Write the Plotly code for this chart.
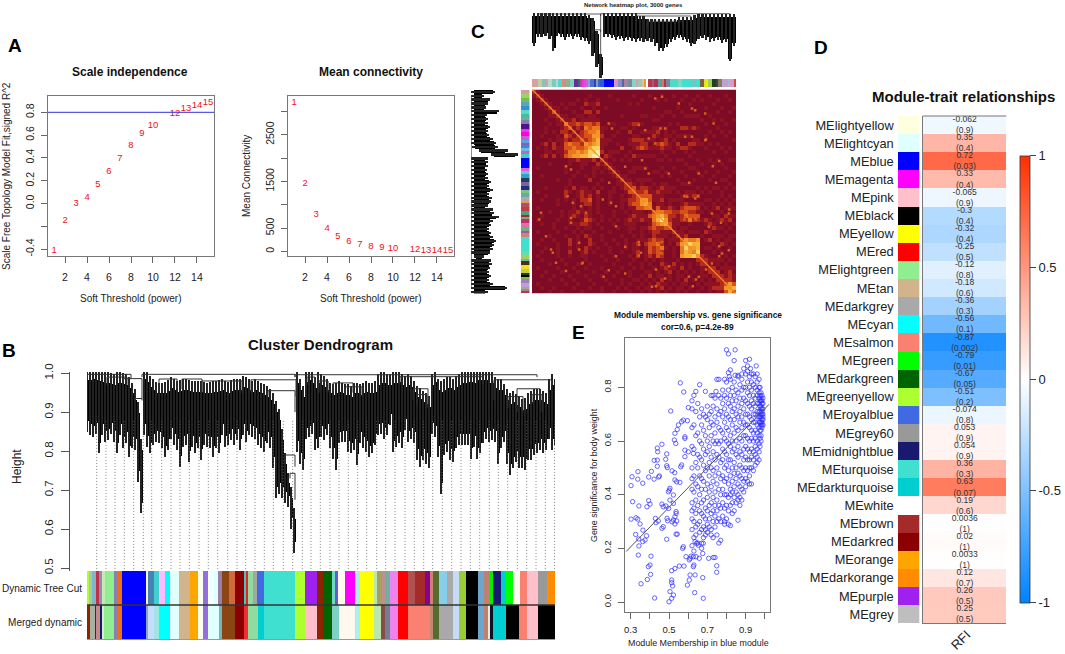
import numpy as np
import plotly.graph_objects as go

W, H = 1065, 654
FONT = "Liberation Sans"

# --- A: soft threshold
powers = [1, 2, 3, 4, 5, 6, 7, 8, 9, 10, 12, 13, 14, 15]
scale_fit = [-0.41, -0.147, 0.0, 0.05, 0.165, 0.28, 0.395, 0.505, 0.61, 0.68, 0.79, 0.83, 0.86, 0.885]
mean_conn = [3180, 1450, 793, 478, 313, 214, 150, 107, 77, 64, 28, 22, 18, 14]
r2_cut = 0.8

# --- B: cluster dendrogram, read every 3 leaf bins (bin = 1 px of the tree width)
dendro_low = [
    .850, .841, .837, .845, .794, .841, .824, .828, .845, .824, .794, .841, .807, .820, .785, .807, .803, .721, .640,
    .841, .811, .794, .815, .824, .820, .807, .784, .803, .832, .815, .803, .760, .811, .815, .773, .811, .794, .807,
    .777, .815, .811, .807, .785, .807, .794, .841, .811, .815, .828, .815, .828, .803,
    .841, .824, .841, .837, .832, .815, .807, .798, .820, .807, .756, .679, .691, .679, .666, .657, .600, .539,
    .798, .768, .751, .832, .837, .845, .803, .807, .837, .828, .841, .807, .781, .751, .820, .824, .824, .798, .794,
    .803, .764, .820, .807, .798, .785, .794, .815, .841, .845, .832, .841, .867, .798,
    .811, .820, .807, .854, .824, .832, .820, .777, .760, .777, .768, .756, .845, .837, .785, .691, .790, .798, .777,
    .773, .807, .815, .815, .815, .815, .781, .811, .781, .794, .820, .832, .824, .828, .824, .768, .807, .824, .768,
    .738, .756, .773, .756, .756, .751, .777, .777, .790, .794, .803, .794, .803, .832, .803, .815]
dendro_top = [
    .982, .982, .984, .982, .980, .978, .976, .974, .972, .969, .974, .976, .972, .969, .961, .948, .931, .897, .803,
    .986, .978, .965, .956, .950, .948, .948, .950, .955, .961, .956, .952, .955, .956, .956, .955, .952, .952, .952,
    .952, .950, .948, .950, .952, .952, .955, .956, .952, .950, .955, .956, .956, .958,
    .965, .961, .956, .952, .956, .952, .948, .944, .939, .931, .922, .901, .879, .828, .768, .717, .680, .625,
    .974, .956, .939, .978, .982, .974, .961, .974, .969, .965, .956, .948, .944, .948, .952, .948, .944, .944, .939,
    .948, .948, .944, .948, .952, .948, .948, .952, .969, .974, .974, .969, .969, .974,
    .974, .978, .969, .965, .969, .965, .952, .939, .935, .926, .922, .914, .969, .978, .956, .952, .956, .961, .961,
    .956, .965, .969, .974, .974, .978, .978, .974, .982, .982, .982, .982, .974, .974, .961, .956, .956, .944, .931,
    .922, .926, .918, .914, .905, .909, .922, .926, .931, .931, .931, .926, .922, .956, .969, .956]
# upper branches: left bin, right bin, height, lower end on each side
branch_left = [0, 36, 48, 55, 164, 181, 198, 203, 208, 313, 407, 430, 421, 445, 326, 330, 220, 232, 246, 258, 72, 95, 115, 135, 20]
branch_right = [44, 55, 55, 208, 209, 208, 208, 208, 450, 396, 465, 453, 436, 455, 341, 340, 228, 241, 266, 275, 90, 115, 135, 155, 40]
branch_h = [.997, .986, .935, .997, .983, .955, .79, .743, .996, .991, .983, .96, .94, .945, .96, .945, .99, .98, .975, .965, .985, .985, .98, .98, .99]
branch_low_l = [.985, .97, .93, .99, .95, .94, .77, .73, .99, .97, .93, .90, .91, .92, .93, .92, .97, .95, .95, .94, .95, .96, .95, .95, .97]
branch_low_r = [.985, .935, .93, .99, .94, .90, .76, .675, .99, .97, .97, .92, .90, .90, .92, .91, .97, .95, .95, .94, .96, .95, .95, .95, .97]
guide_bins = [9.7, 19, 28, 37.3, 46.7, 56.3, 64.7, 74.7, 84, 93, 102.3, 112, 121.3, 130.7, 140.7, 150,
              158.7, 168, 177.3, 186.3, 196.3, 205.7, 215.3, 224, 233.3, 243, 252, 261.3, 270.7, 279.7, 289.7, 298.7,
              308, 318, 327.3, 336.7, 345.7, 355.3, 364.7, 374, 383.3, 392.7, 402.3, 411.3, 420.7, 430.3, 439.7, 449,
              458.3, 467.5]

tree_colors = ["#adff2f", "#a8c8a0", "#7fb6c8", "#c0304a", "#8f8fb0", "#c8e8b8", "#90ee90", "#8a80b0", "#f07010", "#0000ff",
               "#f5f5d0", "#4682b4", "#40d0d0", "#ffbbff", "#00ffff", "#e0ffff", "#d2b48c", "#ffa500", "#fffff0", "#9370db",
               "#f0ffff", "#e0ffff", "#9a80a8", "#8b4513", "#d2693c", "#8b0000", "#40c8c8", "#ee2020", "#90dca0", "#a0a8a0",
               "#4169e1", "#40e0d0", "#adff2f", "#a020f0", "#8b2500", "#006400", "#70d8c8", "#6a5acd", "#fffaf0", "#ff00ff",
               "#aeeeee", "#ffff00", "#b8e8b0", "#a8a060", "#c09090", "#70b0a0", "#ee82ee", "#ff0000", "#b05050", "#a52a2a",
               "#8b008b", "#d08070", "#556b2f", "#87ceeb", "#a9a9a9", "#c6dbf7", "#9acd32", "#000000", "#6ca6cd", "#c08070",
               "#00ee00", "#191970", "#00ced1", "#00ff00", "#fffff0", "#fa8072", "#ffc0cb", "#999999", "#ff8c00"]
tree_ends = [2, 4.7, 9, 11.7, 15.3, 17.7, 27.3, 30, 34.7, 58.7, 61.3, 67.3, 71.7, 77.7, 83.3, 91.7, 103, 110.7, 115.7, 120.7,
             127.3, 131.3, 135, 142, 148, 157, 159.3, 161.3, 165.7, 169.7, 177, 208.3, 218.3, 230, 236.3, 245, 248.3, 251,
             257.7, 268, 273, 287, 289.7, 294.7, 298, 303, 310.7, 321, 328, 338, 343, 346.3, 352.3, 359.7, 366.3, 372.3,
             379, 391, 397, 403, 406.3, 414.3, 419, 426.3, 433, 439.7, 451, 459.7, 468]
merged_colors = ["#8b2500", "#a8b0a0", "#303030", "#c08a90", "#191970", "#d0f0d0", "#90ee90", "#8a80b0", "#f07010", "#0000ff",
                 "#8fa8a8", "#c6dcff", "#9fe6e0", "#00ffff", "#e0ffff", "#d2b48c", "#ffa500", "#fffff0", "#9370db", "#e0ffff",
                 "#70b8b8", "#8b4513", "#8b0000", "#ee3030", "#90dca0", "#00ced1", "#40e0d0", "#adff2f", "#ffc0cb", "#8b2500",
                 "#006400", "#80d0c8", "#fff8ee", "#aeeeee", "#ffff00", "#b8e8b0", "#8b4a4a", "#708090", "#ee82ee", "#ff0000",
                 "#fa8072", "#c08a70", "#556b2f", "#a9a9a9", "#c6dbf7", "#9acd32", "#000000", "#6ca6cd", "#c08070", "#e8e8e8",
                 "#101020", "#00ced1", "#000000", "#fa8072", "#ffc0cb", "#000000"]
merged_ends = [3, 8, 9, 13, 15.3, 17.3, 27.3, 30, 34.7, 59, 61.3, 67.3, 71.7, 83.3, 91.7, 103, 110.7, 115.7, 120.7, 132,
               135, 148, 157, 161.3, 170.7, 177, 208.3, 218.3, 230, 236.3, 245, 251.7, 268, 273, 287, 293.7, 298, 303,
               310.7, 321, 343, 346.3, 352.3, 366.3, 372.3, 379, 391, 397, 400.7, 403, 406, 419, 432.3, 439.7, 451, 468]

# --- C: network heatmap. Lower triangle of the TOM, one digit per 4 px cell
heat_rows = [
    "7", "17", "017", "0017", "00017", "000018", "0000117", "00010017", "000010118", "0001000127",
    "0001010221 8", "0010001032 17", "0000101121 227", "0012020134 3328", "0101021133 43349",
    "0001101124 454579", "0012020134 5566789", "0000000001 12111207", "0000100001 001100217",
    "0100000010 0010011016", "0000000010 01000101017", "0010000000 100101000017", "0000001001 0000200100017",
    "0000000001 00000010000117", "0001000010 201101010010127", "0100000021 0121102001100138",
    "0001000020 01212010010010127", "0010001010 102230100100112238", "0000001000 1012201001001023358",
    "0100000000 10101010000010113347", "0000100101 121110100010010111018", "0010000101 2102100100100012111348",
    "0100001001 00132101010101211211469", "0010010001 112210100010011100013458",
    "0000010010 0101100100010011011232237", "0100001000 10100100010000100101221117",
    "0000100010 010210010000100101002111017", "0010010002 0100200100100100111232201117",
    "0100001002 01002100100101012023342010258", "0001001001 010210100100010110132341010478",
    "0010001002 0012010001001001201323200104658",
    "0100001001 0011000100 1000102012 1320010566 79", "0010000100 0001000010 0100010010 1010001000 027",
    "0000100010 0100100000 1000100101 0021020101 0127", "0100001000 1001000100 0010010100 1012110201 00117",
    "0001000100 0100010010 0100100011 0101201010 101027", "0010010001 0001000100 1000100102 0110101101 0011027",
    "0000100100 1000100010 0010011010 1020101020 10101027", "0100000010 0100010001 0010100101 0211010110 010111128",
    "0010010000 1000100100 0101001011 0120101101 0010122259",
    "0000100100 0010000100 1000100101 0101001010 01001011367"]
heat_diag = [2, 2, 2, 2, 2, 3, 2, 2, 4, 3, 2, 2, 3, 5, 6, 7, 9, 2, 2, 2, 2, 2, 2, 2, 2, 3, 3, 5, 6, 4, 3, 5, 8, 6, 3, 2, 2, 3, 6, 5, 4, 5,
             2, 2, 2, 2, 2, 2, 3, 5, 3]
# small isolated hot spots above the diagonal (column, row in heatmap cells)
spot_col = [30.3, 32, 36.2, 39.5, 40.3, 42.8, 44.9, 32.8, 31.6, 30.3, 37.8, 39.5, 42.8, 18.7, 19.5, 26.2, 27.8, 28.7, 27.8, 28.7,
            22.8, 27, 33.7, 41.2, 40.3, 38.3, 37.8, 40.3, 44.5, 48.7, 43.7, 32, 32, 26.2, 26.2, 22.8, 47, 48.7, 44.5, 41.2, 38.7,
            32.8, 29.5, 22.8, 18.7, 17.4, 12]
spot_row = [1.75, 1.3, 3, 4.25, 4.7, 5.5, 8, 9.25, 9.25, 13, 11.3, 11.3, 12.2, 8, 9.25, 8.4, 9.7, 11.75, 19.25, 20.5, 18.8, 17.2,
            20.5, 20.5, 26.75, 26.3, 31.3, 31.75, 30.5, 30.5, 33.8, 37.6, 40.5, 41, 37.6, 38.8, 40.5, 39.7, 43, 46.3, 46.3, 46.75,
            48.8, 45.5, 44.7, 46.3, 43]

net_low = [.515, .64, .65, .665, .615, .44, .665, .64, .60, .64, .615, .64, .60, .59, .54, .365, .19, .03, .64, .64, .63, .60,
           .615, .59, .60, .59, .565, .59, .565, .59, .565, .515, .44, .44, .50, .565, .60, .63, .60, .565, .515, .54, .615,
           .63, .60, .565, .59, .60, .55, .565, .275, .515]
net_top = [.96, .96, .96, .96, .96, .96, .96, .96, .96, .96, .96, .96, .96, .96, .93, .89, .69, .34, .97, .96, .96, .96, .96, .96,
           .96, .96, .96, .92, .92, .88, .88, .88, .88, .88, .88, .88, .88, .90, .90, .90, .90, .93, .95, .95, .95, .95, .95, .95,
           .95, .95, .95, .95]
net_tip = [.52, .733, .613, .667, .70, .433, .68, .653, .667, .613, .653, .633, .567, .50, .467, .267, .067, .667, .653, .667,
           .68, .653, .667, .60, .633, .567, .633, .587, .60, .667, .567, .533, .447, .567, .60, .633, .60, .567, .50, .533, .567,
           .613, .733, .60, .587, .613, .633, .60, .633, .567, .28, .667]
net_root = [.95, .95, .95, .95, .95, .95, .95, .95, .95, .95, .95, .95, .95, .95, .93, .80, .55, .95, .95, .95, .95, .95, .95, .95,
            .95, .95, .95, .95, .95, .95, .95, .95, .95, .95, .95, .95, .95, .95, .95, .95, .95, .95, .90, .95, .95, .95, .95, .95,
            .95, .95, .95, .95]

top_colors = ["#d8a0a0", "#c0d0a0", "#90c0b0", "#d0a0c0", "#b0e0c0", "#80c8c0", "#a0e0e0", "#60d0c8", "#d09080", "#90b090",
              "#80d0c0", "#6030a0", "#703080", "#406080", "#a050a0", "#ff30d0", "#f040e0", "#d060d0", "#80a0e0", "#5070d0",
              "#3040c0", "#80a0c0", "#5060c0", "#2060e0", "#0000ff", "#e090c0", "#8090c0", "#6060a0", "#b080a0", "#7090a0",
              "#90d0c0", "#d0a0c0", "#a0c8b0", "#e0c0a0", "#e0a030", "#ffffff", "#c03050", "#a06060", "#b03060", "#60a090",
              "#d07080", "#a04040", "#8080a0", "#50d8c8", "#80d8c0", "#40e0d0", "#70c8c0", "#40e0d0", "#806040", "#e0e030",
              "#f0f000", "#a0d050", "#204020", "#404040", "#808060", "#c0a0d0", "#b0b0e0", "#d0a0c0", "#e04040", "#c03060",
              "#f02020", "#a03050", "#e03030", "#20e020", "#00f000"]
top_sizes = [3, 2, 2, 1, 2, 2, 1, 2, 2, 2, 2, 1, 1, 1, 1, 1, 1, 1, 1, 2,
             1, 1, 1, 2, 5, 2, 2, 1, 2, 2, 2, 1, 2, 1, 1, 1, 2, 1, 2, 2,
             1, 1, 2, 4, 2, 5, 2, 2, 2, 1, 1, 2, 2, 1, 2, 3, 1, 2, 2, 2, 1, 1, 2, 2, 2]
left_colors = ["#d0a0a0", "#a0d060", "#70c050", "#60a0c0", "#3090d0", "#60d8c0", "#40c0a0", "#70b090", "#8080b0", "#501090",
               "#e040e0", "#ff00e0", "#c060d0", "#60a0e0", "#8060c0", "#5080d0", "#60c0e0", "#d060c0", "#40d0c0", "#0000ff",
               "#e060d0", "#70c0e0", "#30a0d0", "#204060", "#8060a0", "#203080", "#80c080", "#60b0a0", "#c0a0b0", "#e0a040",
               "#b05060", "#c04040", "#50a080", "#a03030", "#90a070", "#c03070", "#e070a0", "#70b080", "#b050a0", "#d08080",
               "#40e0d0", "#70d8a0", "#a0d060", "#60c0a0", "#503010", "#f0e020", "#c0d040", "#204020", "#000000", "#80c040",
               "#a080c0", "#c0a0d0", "#b0a0a0", "#909090", "#c03050", "#e02020", "#b040a0", "#f01010", "#d04040", "#20e020",
               "#00f000", "#40d040"]
left_sizes = [2, 2, 2, 2, 2, 2, 2, 1, 2, 3, 1, 2, 2, 2, 1, 1, 2, 1, 2, 5,
              2, 1, 2, 2, 2, 2, 2, 2, 2, 1, 2, 2, 2, 1, 1, 2, 2, 2, 1, 2,
              7, 2, 2, 1, 2, 2, 2, 1, 1, 1, 2, 2, 1, 1, 2, 2, 2, 2, 1, 2, 2, 1]

# --- D: module-trait table
modules = ["MElightyellow", "MElightcyan", "MEblue", "MEmagenta", "MEpink", "MEblack", "MEyellow", "MEred", "MElightgreen",
           "MEtan", "MEdarkgrey", "MEcyan", "MEsalmon", "MEgreen", "MEdarkgreen", "MEgreenyellow", "MEroyalblue", "MEgrey60",
           "MEmidnightblue", "MEturquoise", "MEdarkturquoise", "MEwhite", "MEbrown", "MEdarkred", "MEorange", "MEdarkorange",
           "MEpurple", "MEgrey"]
module_colors = ["#ffffe0", "#e0ffff", "#0000ff", "#ff00ff", "#ffc0cb", "#000000", "#ffff00", "#ff0000", "#90ee90",
                 "#d2b48c", "#a9a9a9", "#00ffff", "#fa8072", "#00ff00", "#006400", "#adff2f", "#4169e1", "#999999",
                 "#191970", "#40e0d0", "#00ced1", "#ffffff", "#a52a2a", "#8b0000", "#ffa500", "#ff8c00", "#a020f0", "#bebebe"]
rfi_cor = ["-0.062", "0.35", "0.72", "0.33", "-0.065", "-0.3", "-0.32", "-0.25", "-0.12", "-0.18", "-0.36", "-0.56", "-0.87",
           "-0.79", "-0.67", "-0.51", "-0.074", "0.053", "0.054", "0.36", "0.63", "0.19", "0.0036", "0.02", "0.0033", "0.12",
           "0.26", "0.25"]
rfi_p = ["(0.9)", "(0.4)", "(0.03)", "(0.4)", "(0.9)", "(0.4)", "(0.4)", "(0.5)", "(0.8)", "(0.6)", "(0.3)", "(0.1)", "(0.002)",
         "(0.01)", "(0.05)", "(0.2)", "(0.8)", "(0.9)", "(0.9)", "(0.3)", "(0.07)", "(0.6)", "(1)", "(1)", "(1)", "(0.7)", "(0.5)",
         "(0.5)"]

# --- E: membership vs significance, sparse part read point by point
blue_sparse = [
    (.302, .434), (.307, .467), (.31, .374), (.302, .309), (.328, .314), (.337, .309), (.349, .291), (.326, .252), (.342, .235),
    (.343, .209), (.34, .175), (.354, .068), (.387, .084), (.392, .132), (.401, .138), (.404, .103), (.406, .171), (.363, .225),
    (.375, .231), (.364, .268), (.383, .247), (.385, .355), (.343, .358), (.394, .378), (.401, .365), (.338, .486), (.337, .458),
    (.363, .443), (.394, .466), (.408, .487), (.422, .458), (.439, .506), (.446, .466), (.423, .528), (.439, .574), (.441, .56),
    (.463, .588), (.439, .529), (.483, .532), (.488, .508), (.491, .501), (.45, .47), (.509, .712), (.559, .817), (.577, .783),
    (.601, .725), (.596, .676), (.575, .678), (.566, .672), (.549, .66), (.543, .643), (.531, .629), (.528, .604), (.535, .591),
    (.488, .552), (.516, .489), (.53, .482), (.583, .616), (.583, .61), (.583, .566), (.583, .542), (.601, .56), (.627, .554),
    (.566, .511), (.561, .504), (.531, .455), (.54, .448), (.557, .446), (.505, .424), (.497, .411), (.502, .417), (.523, .399),
    (.505, .38), (.463, .365), (.47, .355), (.484, .358), (.498, .349), (.523, .368), (.537, .337), (.531, .318), (.537, .33),
    (.523, .306), (.54, .302), (.543, .253), (.537, .253), (.488, .234), (.463, .275), (.47, .281), (.444, .302), (.432, .296),
    (.429, .312), (.49, .312), (.493, .303), (.516, .299), (.531, .291), (.571, .2), (.575, .206), (.589, .169), (.61, .163),
    (.627, .132), (.578, .134), (.554, .134), (.531, .125), (.514, .117), (.514, .082), (.514, .072), (.519, .06), (.523, .026),
    (.505, .039), (.5, .001), (.514, .014), (.425, .015), (.634, .035), (.679, .014), (.676, .091), (.596, .063), (.606, .082),
    (.61, .101), (.636, .101), (.63, .138), (.606, .157), (.707, .163), (.731, .166), (.74, .166), (.749, .135), (.749, .111),
    (.636, .225), (.644, .219), (.653, .212), (.67, .219), (.676, .181), (.679, .219), (.658, .163), (.641, .169), (.627, .169),
    (.615, .171), (.80, .94), (.81, .925), (.845, .94), (.84, .9), (.90, .9), (.92, .905), (.91, .88), (.925, .87), (.955, .88),
    (.93, .85), (.82, .865), (.81, .855), (.75, .83), (.76, .83), (.79, .83), (.815, .84), (.845, .845), (.86, .845), (.88, .85),
    (.66, .81), (.64, .785), (.69, .785), (.73, .77), (.745, .785)]
# dense part: membership value, then the significances seen in that column
blue_dense = [
    (.62, [.75, .72, .65, .58, .5, .46, .42, .37, .34, .31, .27, .21]), (.63, [.77, .66, .57, .47, .41, .35, .3, .24, .19]),
    (.64, [.71, .62, .52, .44, .38, .33, .28, .25]), (.65, [.74, .63, .55, .5, .43, .36, .29, .22]),
    (.66, [.69, .6, .54, .47, .4, .34, .3, .26]), (.67, [.72, .66, .59, .53, .46, .42, .37, .33, .27, .2]),
    (.68, [.7, .64, .57, .51, .45, .38, .32, .28, .24]), (.69, [.69, .62, .55, .49, .42, .35, .31, .27, .25]),
    (.70, [.73, .68, .6, .56, .5, .44, .39, .34, .29, .26]), (.71, [.7, .65, .58, .52, .47, .41, .36, .31, .28]),
    (.72, [.77, .71, .67, .62, .54, .5, .43, .37, .33, .27, .25]), (.73, [.73, .66, .6, .56, .49, .45, .39, .34, .3, .24]),
    (.74, [.76, .69, .63, .59, .53, .47, .41, .36, .32, .28]), (.75, [.72, .67, .6, .55, .5, .44, .38, .34, .3, .25]),
    (.76, [.77, .7, .65, .59, .54, .48, .42, .36, .31, .22]), (.77, [.76, .71, .64, .6, .52, .46, .4, .35, .3, .23]),
    (.78, [.79, .74, .69, .63, .57, .53, .47, .42, .37, .32]), (.79, [.77, .72, .67, .61, .56, .5, .45, .4, .35, .3, .29]),
    (.80, [.82, .76, .7, .65, .6, .55, .51, .46, .4, .36, .31]), (.81, [.79, .74, .69, .64, .59, .53, .49, .44, .39, .34, .29]),
    (.82, [.83, .77, .73, .68, .62, .58, .53, .47, .42, .4, .36, .285]), (.83, [.8, .75, .71, .66, .6, .56, .5, .45, .41, .37, .33]),
    (.84, [.82, .77, .72, .68, .63, .57, .52, .48, .43, .39, .34]), (.85, [.79, .75, .7, .65, .6, .55, .5, .46, .41, .37]),
    (.86, [.84, .78, .73, .69, .64, .58, .54, .48, .44, .4, .38, .305]), (.87, [.81, .76, .71, .67, .61, .56, .51, .47, .43, .39, .36]),
    (.88, [.83, .79, .74, .69, .65, .6, .55, .5, .46, .42, .38]), (.89, [.87, .8, .76, .72, .67, .62, .57, .53, .49, .45, .41]),
    (.90, [.85, .8, .75, .7, .66, .62, .58, .54, .5, .46, .43]), (.91, [.86, .82, .78, .74, .7, .66, .61, .57, .53, .49, .45]),
    (.92, [.84, .8, .77, .73, .69, .65, .6, .56, .53, .5, .47, .44]), (.93, [.82, .79, .75, .72, .68, .64, .61, .57, .54, .5, .44]),
    (.94, [.85, .81, .77, .74, .7, .67, .63, .6, .56, .53, .49]), (.95, [.84, .8, .76, .73, .7, .67, .64, .61, .58, .55, .51]),
    (.96, [.85, .82, .79, .77, .74, .71, .69, .66, .63, .6, .57, .54, .52]),
    (.97, [.83, .8, .78, .76, .74, .71, .69, .67, .65, .62, .59, .56, .53]),
    (.975, [.8, .77, .75, .73, .71, .69, .67, .64, .61, .58]), (.98, [.78, .76, .75, .73, .72, .7, .69, .67, .66, .64, .62, .6]),
    (.985, [.77, .75, .74, .72, .71, .7, .68, .67, .66, .65]), (.99, [.76, .74, .72, .7, .69, .68, .66])]
fit_mm = [.276, 1.022]
fit_gs = [.188, .737]


def dx(a, b):
    return [a / W, b / W]


def dy(top, bottom):
    return [1 - bottom / H, 1 - top / H]


def label(text, x, y, size=10, bold=False, angle=0, color="#222"):
    fig.add_annotation(text="<b>%s</b>" % text if bold else text, x=x / W, y=1 - y / H, xref="paper", yref="paper",
                       xanchor="center", yanchor="middle", showarrow=False, textangle=angle,
                       font=dict(size=size, color=color, family=FONT))


def branch_lines(left, right, h, low_l, low_r):
    xs, ys = [], []
    for a, b, c, l0, l1 in zip(left, right, h, low_l, low_r):
        xs += [a, a, b, b, None]
        ys += [l0, c, c, l1, None]
    return xs, ys


def strip_bar(colors, ends, row, xa, ya):
    # one stacked row of coloured segments, from the segment ends
    starts = [0] + list(ends[:-1])
    sizes = [e - s for s, e in zip(starts, ends)]
    return go.Bar(x=sizes, base=starts, y=[row] * len(sizes), width=1, orientation="h",
                  marker=dict(color=colors, line=dict(width=0)), xaxis=xa, yaxis=ya, showlegend=False)


def tree_mass(pos, low, top, thick, thin, fringe, xa, ya, horizontal=False):
    # a solid body with a thin comb of leaves past both ends, so the edge reads as a fringe
    low, top = np.array(low), np.array(top)
    body_low = np.minimum(low + fringe, top)
    out = []
    for base, size, w, color in [(body_low, top - body_low, thick, "#000"), (low, top - low + fringe, thin, "#222")]:
        if horizontal:
            out.append(go.Bar(y=pos, x=size, base=base, width=w, orientation="h", marker=dict(color=color, line=dict(width=0)),
                              xaxis=xa, yaxis=ya, showlegend=False))
        else:
            out.append(go.Bar(x=pos, y=size, base=base, width=w, marker=dict(color=color, line=dict(width=0)),
                              xaxis=xa, yaxis=ya, showlegend=False))
    return out


fig = go.Figure()
off = dict(visible=False)
frame = dict(showline=True, mirror=True, linecolor="#777", linewidth=1.2, showgrid=False, zeroline=False, ticks="outside",
             ticklen=6, tickcolor="#666", tickfont=dict(size=10.5, color="#222", family=FONT))

# A
fig.add_trace(go.Scatter(x=powers, y=scale_fit, text=[str(p) for p in powers], mode="text", cliponaxis=False,
                         textfont=dict(color="#f01020", size=9.5, family=FONT), xaxis="x", yaxis="y", showlegend=False))
fig.add_shape(type="line", xref="x domain", x0=0, x1=1, yref="y", y0=r2_cut, y1=r2_cut, line=dict(color="#3030e0", width=1))
fig.add_trace(go.Scatter(x=powers, y=mean_conn, text=[str(p) for p in powers], mode="text", cliponaxis=False,
                         textfont=dict(color="#f01020", size=9.5, family=FONT), xaxis="x2", yaxis="y2", showlegend=False))

# B dendrogram: guides underneath, then the tree
gx, gy = [], []
for g in guide_bins:
    gx += [g, g, None]
    gy += [0.49, 0.88, None]
fig.add_trace(go.Scatter(x=gx, y=gy, mode="lines", line=dict(color="#666", width=0.8, dash="1px,2px"), xaxis="x3", yaxis="y3",
                         showlegend=False))
tree_bins = np.arange(len(dendro_low)) * 3
fig.add_traces(tree_mass(tree_bins, dendro_low, dendro_top, 3, 1.1, .028, "x3", "y3"))
bx, by = branch_lines(branch_left, branch_right, branch_h, branch_low_l, branch_low_r)
fig.add_trace(go.Scatter(x=bx, y=by, mode="lines", line=dict(color="#333", width=1), xaxis="x3", yaxis="y3", showlegend=False))
fig.add_trace(strip_bar(tree_colors, tree_ends, 1, "x4", "y4"))
fig.add_trace(strip_bar(merged_colors, merged_ends, 0, "x4", "y4"))
fig.add_shape(type="line", xref="x4 domain", x0=0, x1=1, yref="y4", y0=0.5, y1=0.5, line=dict(color="#333", width=1.5))

# C dendrograms
net_x = np.arange(len(net_low))
fig.add_traces(tree_mass(net_x, net_low, net_top, 1, .45, .045, "x5", "y5"))
bx, by = branch_lines([1, 17, 15, 26, 29], [17, 50, 17, 40, 38], [.99, .995, .75, .96, .88], [.95, .96, .70, .88, .80], [.34, .95, .72, .85, .80])
fig.add_trace(go.Scatter(x=bx, y=by, mode="lines", line=dict(color="#333", width=0.8), xaxis="x5", yaxis="y5", showlegend=False))
fig.add_traces(tree_mass(net_x, net_tip, net_root, 1, .45, .045, "x7", "y7", horizontal=True))
fig.add_trace(go.Scatter(x=[.95, .995, .995, .95], y=[1, 1, 50, 50], mode="lines", line=dict(color="#444", width=0.8),
                         xaxis="x7", yaxis="y7", showlegend=False))
fig.add_trace(strip_bar(top_colors, list(np.cumsum(top_sizes)), 0, "x6", "y6"))
fig.add_trace(go.Bar(y=left_sizes, base=[0] + list(np.cumsum(left_sizes)[:-1]), x=[0] * len(left_sizes), width=1,
                     marker=dict(color=left_colors, line=dict(width=0)), xaxis="x8", yaxis="y8", showlegend=False))

# C heatmap: mirror the lower triangle
clean_rows = [r.replace(" ", "") for r in heat_rows]
n_heat = len(clean_rows)
tom = np.zeros((n_heat, n_heat))
for i, row in enumerate(clean_rows):
    for j, ch in enumerate(row[:n_heat]):
        tom[i, j] = tom[j, i] = int(ch)
tom[np.diag_indices(n_heat)] = heat_diag
fig.add_trace(go.Heatmap(z=tom, zmin=0, zmax=9, showscale=False, hoverinfo="skip", xaxis="x9", yaxis="y9",
                         colorscale=[[0, "#7d0b26"], [.11, "#8c1224"], [.22, "#b42a1c"], [.33, "#d8501a"], [.5, "#f08a20"],
                                     [.7, "#fbb83c"], [.85, "#ffe880"], [1, "#fffde0"]]))
fig.add_trace(go.Scatter(x=spot_col + spot_row, y=spot_row + spot_col, mode="markers", xaxis="x9", yaxis="y9", showlegend=False,
                         marker=dict(symbol="square", size=2.5, color="#d8601a", line=dict(width=0))))
fig.add_trace(go.Scatter(x=[-.5, n_heat - .5], y=[-.5, n_heat - .5], mode="lines", line=dict(color="#f09030", width=1.2), xaxis="x9",
                         yaxis="y9", showlegend=False))

# E
mm_all = [p[0] for p in blue_sparse]
gs_all = [p[1] for p in blue_sparse]
for mm, column in blue_dense:
    mm_all += [mm] * len(column)
    gs_all += column
fig.add_trace(go.Scatter(x=mm_all, y=gs_all, mode="markers", xaxis="x10", yaxis="y10", showlegend=False,
                         marker=dict(symbol="circle-open", size=4.4, color="#2a2aff", line=dict(width=0.7))))
fig.add_trace(go.Scatter(x=fit_mm, y=fit_gs, mode="lines", line=dict(color="#555", width=1), xaxis="x10", yaxis="y10", showlegend=False))

# D
rows = list(range(len(modules)))
fig.add_trace(go.Bar(x=[1] * len(rows), y=rows, width=1, orientation="h", marker=dict(color=module_colors, line=dict(width=0)),
                     xaxis="x11", yaxis="y11", showlegend=False))
fig.add_trace(go.Heatmap(z=[[float(v)] for v in rfi_cor], x=[0], y=rows, zmin=-1, zmax=1, hoverinfo="skip", xaxis="x12", yaxis="y12",
                         colorscale=[[0, "rgb(0,130,255)"], [.5, "rgb(255,255,255)"], [1, "rgb(255,47,0)"]],
                         colorbar=dict(x=1019.7 / W, xanchor="left", y=1 - 379 / H, yanchor="middle", lenmode="pixels", len=446.6,
                                       thicknessmode="pixels", thickness=10.3, xpad=0, ypad=0, outlinewidth=0.8, outlinecolor="#333",
                                       tickvals=[-1, -.5, 0, .5, 1], ticktext=["-1", "-0.5", "0", "0.5", "1"], ticks="outside",
                                       ticklen=6, tickcolor="#444", tickfont=dict(size=13, color="#222", family=FONT))))
fig.add_trace(go.Scatter(x=[0] * len(rows), y=[r - .28 for r in rows], text=rfi_cor, mode="text", cliponaxis=False, xaxis="x12",
                         yaxis="y12", textfont=dict(size=8.5, color="#333", family=FONT), showlegend=False))
fig.add_trace(go.Scatter(x=[0] * len(rows), y=[r + .33 for r in rows], text=rfi_p, mode="text", cliponaxis=False, xaxis="x12",
                         yaxis="y12", textfont=dict(size=8.5, color="#333", family=FONT), showlegend=False))
fig.add_shape(type="line", xref="x12 domain", x0=0, x1=1, yref="y12 domain", y0=1, y1=1, line=dict(color="#777", width=1))

fig.update_layout(
    width=W, height=H, margin=dict(l=0, r=0, t=0, b=0, autoexpand=False), paper_bgcolor="white", plot_bgcolor="rgba(0,0,0,0)",
    barmode="overlay", bargap=0, showlegend=False, font=dict(family=FONT),
    xaxis=dict(frame, anchor="y", domain=dx(48, 214), range=[.45, 15.55], tickvals=[2, 4, 6, 8, 10, 12, 14], ticklabelstandoff=5),
    yaxis=dict(frame, anchor="x", domain=dy(96, 256), range=[-.461, .943], tickvals=[-.4, -.2, 0, .2, .4, .6, .8],
               ticktext=["-0.4", "", "0.0", "0.2", "0.4", "0.6", "0.8"], tickangle=-90, ticklabelstandoff=3),
    xaxis2=dict(frame, anchor="y2", domain=dx(288, 454), range=[.45, 15.55], tickvals=[2, 4, 6, 8, 10, 12, 14], ticklabelstandoff=5),
    yaxis2=dict(frame, anchor="x2", domain=dy(96, 256), range=[-100, 3330], tickvals=[0, 500, 1000, 1500, 2000, 2500, 3000],
                ticktext=["0", "500", "", "1500", "", "2500", ""], tickangle=-90, ticklabelstandoff=3),
    xaxis3=dict(off, anchor="y3", domain=dx(87, 555), range=[0, 468]),
    yaxis3=dict(domain=dy(372, 571), range=[.4923, 1.003], anchor="free", position=68.7 / W, showline=True, linecolor="#555", linewidth=1.2,
                showgrid=False, zeroline=False, ticks="outside", ticklen=8, tickcolor="#555", tickvals=[.5, .6, .7, .8, .9, 1],
                ticktext=["0.5", "0.6", "0.7", "0.8", "0.9", "1.0"], tickangle=-90, ticklabelstandoff=3,
                tickfont=dict(size=11.5, color="#222", family=FONT)),
    xaxis4=dict(anchor="y4", domain=dx(87, 555), range=[0, 468], showline=True, linecolor="#999", linewidth=1, showticklabels=False, ticks="",
                showgrid=False, zeroline=False),
    yaxis4=dict(anchor="x4", domain=dy(571, 639), range=[-.5, 1.5], tickvals=[1, 0], ticktext=["Dynamic Tree Cut", "Merged dynamic"], showgrid=False,
                zeroline=False, ticks="", ticklabelstandoff=4, tickfont=dict(size=10, color="#222", family=FONT)),
    xaxis5=dict(off, anchor="y5", domain=dx(532, 736), range=[-.5, 51.5]),
    yaxis5=dict(off, anchor="x5", domain=dy(12.7, 79.3), range=[0, 1.01]),
    xaxis6=dict(off, anchor="y6", domain=dx(532, 736), range=[0, 102]),
    yaxis6=dict(off, anchor="x6", domain=dy(79, 87), range=[-.5, .5]),
    xaxis7=dict(off, anchor="y7", domain=dx(471, 521), range=[1, 0]),
    yaxis7=dict(off, anchor="x7", domain=dy(89.5, 293.5), range=[51.5, -.5]),
    xaxis8=dict(off, anchor="y8", domain=dx(521, 529.5), range=[-.5, .5]),
    yaxis8=dict(off, anchor="x8", domain=dy(90, 293), range=[102, 0]),
    xaxis9=dict(off, anchor="y9", domain=dx(532, 736), range=[-.5, n_heat - .5]),
    yaxis9=dict(off, anchor="x9", domain=dy(89.5, 293.5), range=[n_heat - .5, -.5]),
    xaxis10=dict(frame, anchor="y10", domain=dx(625.3, 770), range=[.272, 1.027], tickvals=[.3, .4, .5, .6, .7, .8, .9, 1],
                 ticktext=["0.3", "", "0.5", "", "0.7", "", "0.9", ""], ticklabelstandoff=3, tickfont=dict(size=9.5, color="#222", family=FONT)),
    yaxis10=dict(frame, anchor="x10", domain=dy(338.3, 611.7), range=[-.036, .983], tickvals=[0, .2, .4, .6, .8],
                 ticktext=["0.0", "0.2", "0.4", "0.6", "0.8"], tickangle=-90, ticklabelstandoff=3, tickfont=dict(size=9.5, color="#222", family=FONT)),
    xaxis11=dict(off, anchor="y11", domain=dx(897.7, 919.3), range=[0, 1]),
    yaxis11=dict(anchor="x11", domain=dy(116, 623.3), range=[27.5, -.5], tickvals=rows, ticktext=modules, showgrid=False, zeroline=False, ticks="",
                 ticklabelstandoff=3, tickfont=dict(size=12.8, color="#222", family=FONT)),
    xaxis12=dict(anchor="y12", domain=dx(923, 1006.3), range=[-.5, .5], showline=True, linecolor="#777", linewidth=1.2, showticklabels=False, ticks="",
                 showgrid=False, zeroline=False),
    yaxis12=dict(anchor="x12", domain=dy(116, 623.3), range=[27.5, -.5], showline=True, linecolor="#777", linewidth=1.2, showticklabels=False,
                 ticks="", showgrid=False, zeroline=False),
)

# panel letters and titles
for letter, lx, ly in [("A", 15, 45), ("B", 9, 350), ("C", 478, 31), ("D", 821, 47), ("E", 578, 333)]:
    label(letter, lx, ly, size=19, bold=True, color="#000")
label("Scale independence", 130, 72, size=12, bold=True, color="#111")
label("Mean connectivity", 371, 72, size=12, bold=True, color="#111")
label("Soft Threshold (power)", 131, 298)
label("Soft Threshold (power)", 371, 298)
label("Scale Free Topology Model Fit,signed R^2", 7, 176, angle=-90)
label("Mean Connectivity", 247, 176, angle=-90)
label("Cluster Dendrogram", 320, 345, size=15, bold=True, color="#111")
label("Height", 17, 467, size=12, angle=-90)
label("Network heatmap plot, 3000 genes", 633, 5.5, size=6, bold=True, color="#222")
label("Module membership vs. gene significance", 697.7, 315, size=8.4, bold=True, color="#111")
label("cor=0.6, p=4.2e-89", 697.7, 327, size=8.4, bold=True, color="#111")
label("Module Membership in blue module", 698, 643, size=8.9)
label("Gene significance for body weight", 594, 475, size=8.9, angle=-90)
label("Module-trait relationships", 963, 97, size=15, bold=True, color="#111")
label("RFI", 960, 640, size=13, angle=-45)

fig.write_html("out.html", config={"displayModeBar": False},
               post_script="document.body.style.margin='0';document.body.style.overflow='hidden';")
